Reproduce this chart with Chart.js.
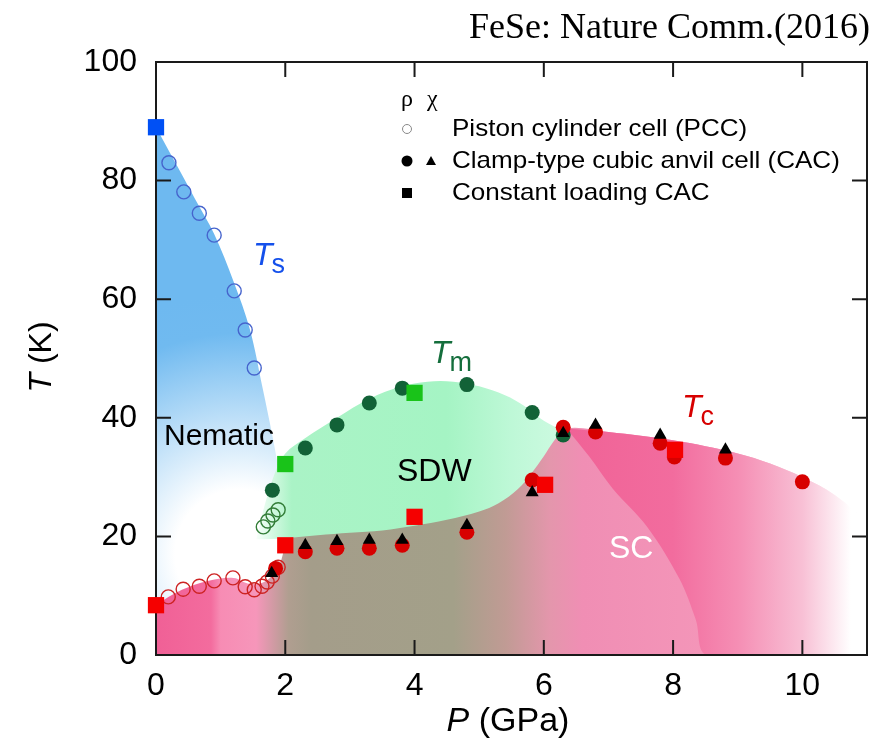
<!DOCTYPE html>
<html>
<head>
<meta charset="utf-8">
<script src="https://cdn.jsdelivr.net/npm/chart.js@4.4.0/dist/chart.umd.min.js"></script>
<style>
  html, body { margin: 0; padding: 0; background: #fff; }
  #wrap { width: 884px; height: 748px; }
</style>
</head>
<body>
<div id="wrap"><canvas id="grafico"></canvas></div>
<script>
// ticks dos eixos
const pTicks = [0, 2, 4, 6, 8, 10];
const tTicks = [0, 20, 40, 60, 80, 100];

// PCC (circulos abertos)
const tsPccP = [0.2, 0.43, 0.67, 0.9, 1.21, 1.38, 1.52];
const tsPccT = [83.0, 78.1, 74.5, 70.8, 61.4, 54.8, 48.4];
const tmPccP = [1.66, 1.73, 1.81, 1.89];
const tmPccT = [21.6, 22.6, 23.6, 24.5];
const tcPccP = [0.19, 0.42, 0.67, 0.9, 1.19, 1.38, 1.52, 1.64, 1.72, 1.8, 1.89];
const tcPccT = [9.8, 11.1, 11.6, 12.5, 13.0, 11.5, 11.0, 11.6, 12.3, 13.3, 14.8];

// CAC: rho (circulos cheios) e chi (triangulos)
const tmCacP = [1.8, 2.31, 2.8, 3.3, 3.81, 4.81, 5.82, 6.3];
const tmCacT = [27.8, 34.9, 38.8, 42.5, 45.0, 45.6, 40.9, 37.1];
const tcRhoP = [1.85, 2.31, 2.8, 3.3, 3.81, 4.81, 5.82, 6.3, 6.8, 7.8, 8.02, 8.81, 10.0];
const tcRhoT = [14.6, 17.4, 18.0, 18.0, 18.5, 20.7, 29.5, 38.4, 37.6, 35.7, 33.4, 33.2, 29.2];
const tcChiP = [1.79, 2.31, 2.8, 3.3, 3.81, 4.81, 5.82, 6.3, 6.8, 7.8, 8.81];
const tcChiT = [13.8, 18.5, 19.2, 19.4, 19.4, 21.9, 27.4, 37.4, 38.8, 37.1, 34.6];

// constant loading CAC (quadrados)
const tsClP = [0];
const tsClT = [89];
const tmClP = [2.0, 4.0];
const tmClT = [32.2, 44.2];
const tcClP = [0, 2.0, 4.0, 6.02, 8.03];
const tcClT = [8.4, 18.5, 23.3, 28.7, 34.6];

// contornos das fases
const nemP = [0, 0.3, 0.6, 0.9, 1.2, 1.45, 1.65, 1.8, 1.95, 2.1];
const nemT = [89, 83, 77, 71, 63, 55, 45, 37, 28, 18];
const scP = [0, 0.4, 0.8, 1.2, 1.45, 1.7, 1.9, 2.05, 2.3, 3, 4, 5, 5.5, 5.8, 6.1, 6.35, 7, 8, 9, 9.5, 10, 10.5, 11];
const scT = [8.5, 11, 12.5, 13, 12, 12.5, 15, 19.5, 21, 22, 23.5, 26, 29, 32, 36, 38.2, 37.6, 36.2, 34, 32.3, 30, 27, 22.5];
const arcoP = [6.35, 6.7, 7.07, 7.6, 8.1, 8.35, 8.53, 11];
const arcoT = [38.2, 33.5, 28, 21.6, 12.8, 6, 0, 0];
const sdwTopoP = [1.55, 1.7, 1.85, 2.0, 2.3, 2.8, 3.3, 3.8, 4.2, 4.6, 5.0, 5.4, 5.7, 6.0, 6.3];
const sdwTopoT = [19.5, 26, 31, 34, 36.5, 40, 43.2, 45.3, 46.1, 46.1, 45.3, 43.8, 42, 39.5, 37.8];
const sdwBaseP = [1.55, 2.0, 2.5, 3.0, 3.5, 4.0, 4.5, 5.0, 5.3, 5.6, 5.8, 6.0, 6.15, 6.3];
const sdwBaseT = [19.5, 19.7, 20.2, 20.6, 21.0, 21.8, 22.8, 24.2, 25.6, 28, 30.5, 33.5, 36, 37.8];

const fonte = "'Liberation Sans', Arial, Helvetica, sans-serif";
const serif = "'Liberation Serif', 'Times New Roman', serif";

function juntar(xs, ys) {
  return xs.map((x, i) => ({ x: x, y: ys[i] }));
}

// gradiente horizontal com paradas em valores de P
function gradX(chart, paradas) {
  const a = chart.chartArea;
  if (!a) return 'rgba(0,0,0,0)';
  const sx = chart.scales.x;
  const g = chart.ctx.createLinearGradient(a.left, 0, a.right, 0);
  paradas.forEach(([p, cor]) => {
    let f = (sx.getPixelForValue(p) - a.left) / (a.right - a.left);
    g.addColorStop(Math.min(1, Math.max(0, f)), cor);
  });
  return g;
}

function gradAzul(chart) {
  const a = chart.chartArea;
  if (!a) return 'rgba(0,0,0,0)';
  const cx = chart.scales.x.getPixelForValue(1.3);
  const cy = chart.scales.y.getPixelForValue(17);
  const g = chart.ctx.createRadialGradient(cx, cy, 0, cx, cy, 260);
  g.addColorStop(0, '#ffffff');
  g.addColorStop(0.25, '#ffffff');
  g.addColorStop(0.85, 'rgb(112,186,240)');
  g.addColorStop(1, 'rgb(110,185,240)');
  return g;
}

function regiao(xs, ys, cor, preencher, ordem) {
  return {
    data: juntar(xs, ys),
    borderColor: 'rgba(0,0,0,0)',
    borderWidth: 1,
    backgroundColor: cor,
    fill: preencher,
    pointRadius: 0,
    tension: 0.35,
    order: ordem
  };
}

function pontos(xs, ys, estilo, raio, fundo, borda, ordem) {
  return {
    data: juntar(xs, ys),
    showLine: false,
    pointStyle: estilo,
    pointRadius: raio,
    pointBackgroundColor: fundo,
    pointBorderColor: borda,
    pointBorderWidth: borda === 'rgba(0,0,0,0)' ? 0 : 1.4,
    clip: false,
    order: ordem
  };
}

const domoP = scP.filter(p => p >= 6.35);
const domoT = scT.slice(scP.length - domoP.length);

const datasets = [
  // 0 nematic
  regiao(nemP, nemT, (c) => gradAzul(c.chart), 'origin', 20),
  // 1 faixa SC
  regiao(scP, scT, (c) => gradX(c.chart, [
    [0, 'rgb(240,96,150)'], [0.85, 'rgb(243,108,158)'], [1.0, 'rgb(247,140,180)'],
    [1.55, 'rgb(246,150,186)'], [2.05, 'rgb(176,158,144)'], [2.4, 'rgb(164,157,138)'],
    [4.6, 'rgb(163,160,137)'], [5.4, 'rgb(192,155,148)'], [6.1, 'rgb(228,150,172)'],
    [6.6, 'rgb(240,142,180)'], [8.6, 'rgb(244,150,185)'], [9.6, 'rgb(248,192,212)'],
    [10.7, 'rgb(255,255,255)'], [11, 'rgb(255,255,255)']
  ]), 'origin', 19),
  // 2 arco (auxiliar)
  regiao(arcoP, arcoT, 'rgba(0,0,0,0)', false, 18),
  // 3 domo escuro entre Tc e o arco
  regiao(domoP, domoT, (c) => gradX(c.chart, [
    [6.3, 'rgb(240,98,150)'], [8, 'rgb(242,108,158)'], [9, 'rgb(245,142,180)'],
    [10, 'rgb(248,192,213)'], [10.75, 'rgb(255,255,255)'], [11, 'rgb(255,255,255)']
  ]), 2, 17),
  // 4 base do SDW (auxiliar)
  regiao(sdwBaseP, sdwBaseT, 'rgba(0,0,0,0)', false, 16),
  // 5 SDW
  regiao(sdwTopoP, sdwTopoT, (c) => gradX(c.chart, [
    [1.5, 'rgb(255,255,255)'], [2.1, 'rgb(170,243,198)'], [4.5, 'rgb(165,244,196)'],
    [5.5, 'rgb(190,248,215)'], [6.3, 'rgb(205,250,225)']
  ]), 4, 15),
  // pontos
  pontos(tsPccP, tsPccT, 'circle', 7, 'rgba(0,0,0,0)', 'rgb(70,100,205)', 6),
  pontos(tmPccP, tmPccT, 'circle', 7, 'rgba(0,0,0,0)', 'rgb(50,125,55)', 6),
  pontos(tcPccP, tcPccT, 'circle', 7, 'rgba(0,0,0,0)', 'rgb(205,35,35)', 6),
  pontos(tmCacP, tmCacT, 'circle', 7.5, 'rgb(18,98,55)', 'rgba(0,0,0,0)', 5),
  pontos(tcRhoP, tcRhoT, 'circle', 7.5, 'rgb(215,0,0)', 'rgba(0,0,0,0)', 4),
  pontos(tcChiP, tcChiT, 'triangle', 7.5, 'rgb(0,0,0)', 'rgba(0,0,0,0)', 3),
  pontos(tsClP, tsClT, 'rect', 11.5, 'rgb(0,80,245)', 'rgba(0,0,0,0)', 2),
  pontos(tmClP, tmClT, 'rect', 11.5, 'rgb(25,195,25)', 'rgba(0,0,0,0)', 2),
  pontos(tcClP, tcClT, 'rect', 11.5, 'rgb(245,0,0)', 'rgba(0,0,0,0)', 2)
];

// texto com indice (T_s, T_m, T_c)
function textoSub(ctx, x, y, sub, cor) {
  ctx.fillStyle = cor;
  ctx.textAlign = 'left';
  ctx.textBaseline = 'alphabetic';
  ctx.font = 'italic 32px ' + fonte;
  ctx.fillText('T', x, y);
  const w = ctx.measureText('T').width;
  ctx.font = '27px ' + fonte;
  ctx.fillText(sub, x + w - 1, y + 8);
}

// texto esticado na horizontal
function textoLargo(ctx, txt, x, y, sx) {
  ctx.save();
  ctx.translate(x, y);
  ctx.scale(sx, 1);
  ctx.fillText(txt, 0, 0);
  ctx.restore();
}

const moldura = {
  id: 'moldura',
  beforeDatasetsDraw(chart) {
    const { ctx, chartArea: a, scales: { x, y } } = chart;
    ctx.save();
    ctx.strokeStyle = '#1a1a1a';
    ctx.lineWidth = 2;
    const tam = 15;
    ctx.beginPath();
    pTicks.forEach(v => {
      const px = x.getPixelForValue(v);
      ctx.moveTo(px, a.bottom); ctx.lineTo(px, a.bottom - tam);
      ctx.moveTo(px, a.top); ctx.lineTo(px, a.top + tam);
    });
    tTicks.forEach(v => {
      const py = y.getPixelForValue(v);
      ctx.moveTo(a.left, py); ctx.lineTo(a.left + tam, py);
      ctx.moveTo(a.right, py); ctx.lineTo(a.right - tam, py);
    });
    ctx.stroke();
    ctx.strokeRect(a.left, a.top, a.right - a.left, a.bottom - a.top);
    ctx.restore();
  },
  afterDatasetsDraw(chart) {
    const { ctx } = chart;
    ctx.save();

    // titulo
    ctx.fillStyle = '#000';
    ctx.font = '36px ' + serif;
    ctx.textAlign = 'right';
    ctx.textBaseline = 'alphabetic';
    ctx.fillText('FeSe: Nature Comm.(2016)', 870, 38);

    // rotulos das fases
    textoSub(ctx, 253, 265, 's', 'rgb(20,80,235)');
    textoSub(ctx, 431, 363, 'm', 'rgb(20,110,60)');
    textoSub(ctx, 682, 417, 'c', 'rgb(215,0,0)');

    ctx.textAlign = 'left';
    ctx.font = '30px ' + fonte;
    ctx.fillStyle = '#000';
    ctx.fillText('Nematic', 164, 445);
    ctx.font = '32px ' + fonte;
    ctx.fillText('SDW', 397, 481);
    ctx.fillStyle = '#fff';
    ctx.fillText('SC', 609, 558);

    // legenda
    ctx.fillStyle = '#000';
    ctx.font = '24px ' + serif;
    ctx.fillText('\u03c1', 401, 106);
    ctx.fillText('\u03c7', 427, 106);
    ctx.font = '24px ' + fonte;
    ctx.textBaseline = 'middle';
    textoLargo(ctx, 'Piston cylinder cell (PCC)', 452, 129, 1.085);
    textoLargo(ctx, 'Clamp-type cubic anvil cell (CAC)', 452, 161, 1.085);
    textoLargo(ctx, 'Constant loading CAC', 452, 193, 1.085);

    ctx.strokeStyle = '#888';
    ctx.lineWidth = 1;
    ctx.beginPath();
    ctx.arc(407, 129, 4.5, 0, Math.PI * 2);
    ctx.stroke();
    ctx.beginPath();
    ctx.arc(407, 161, 5.5, 0, Math.PI * 2);
    ctx.fill();
    ctx.beginPath();
    ctx.moveTo(431, 156); ctx.lineTo(436, 165); ctx.lineTo(426, 165);
    ctx.closePath();
    ctx.fill();
    ctx.fillRect(402, 188, 10, 10);

    // titulos dos eixos
    ctx.fillStyle = '#000';
    ctx.textBaseline = 'middle';
    ctx.font = 'italic 32px ' + fonte;
    const wT = ctx.measureText('T').width;
    ctx.font = '32px ' + fonte;
    const wK = ctx.measureText(' (K)').width;
    ctx.save();
    ctx.translate(42, 357);
    ctx.rotate(-Math.PI / 2);
    ctx.textAlign = 'left';
    ctx.font = 'italic 32px ' + fonte;
    ctx.fillText('T', -(wT + wK) / 2, 0);
    ctx.font = '32px ' + fonte;
    ctx.fillText(' (K)', -(wT + wK) / 2 + wT, 0);
    ctx.restore();

    ctx.font = 'italic 34px ' + fonte;
    const wP = ctx.measureText('P').width;
    ctx.font = '34px ' + fonte;
    const wG = ctx.measureText(' (GPa)').width;
    ctx.textAlign = 'left';
    ctx.font = 'italic 34px ' + fonte;
    ctx.fillText('P', 508 - (wP + wG) / 2, 722);
    ctx.font = '34px ' + fonte;
    ctx.fillText(' (GPa)', 508 - (wP + wG) / 2 + wP, 722);

    ctx.restore();
  }
};

const ctx = document.getElementById('grafico').getContext('2d');

const grafico = new Chart(ctx, {
  type: 'line',
  data: { datasets: datasets },
  options: {
    responsive: true,
    maintainAspectRatio: false,
    animation: false,
    events: [],
    layout: { padding: { top: 62, right: 17, left: 0, bottom: 0 } },
    scales: {
      x: {
        type: 'linear',
        min: 0,
        max: 11,
        grid: { display: false, drawTicks: false },
        border: { display: false },
        afterBuildTicks: (s) => { s.ticks = pTicks.map(v => ({ value: v })); },
        afterFit: (s) => { s.height = 93; },
        ticks: { color: '#000', font: { family: fonte, size: 32 }, padding: 12, maxRotation: 0 }
      },
      y: {
        min: 0,
        max: 100,
        grid: { display: false, drawTicks: false },
        border: { display: false },
        afterBuildTicks: (s) => { s.ticks = tTicks.map(v => ({ value: v })); },
        afterFit: (s) => { s.width = 156; },
        ticks: { color: '#000', font: { family: fonte, size: 32 }, padding: 19 }
      }
    },
    plugins: {
      legend: { display: false },
      tooltip: { enabled: false },
      filler: { drawTime: 'beforeDatasetsDraw' }
    }
  },
  plugins: [moldura]
});
</script>
</body>
</html>
